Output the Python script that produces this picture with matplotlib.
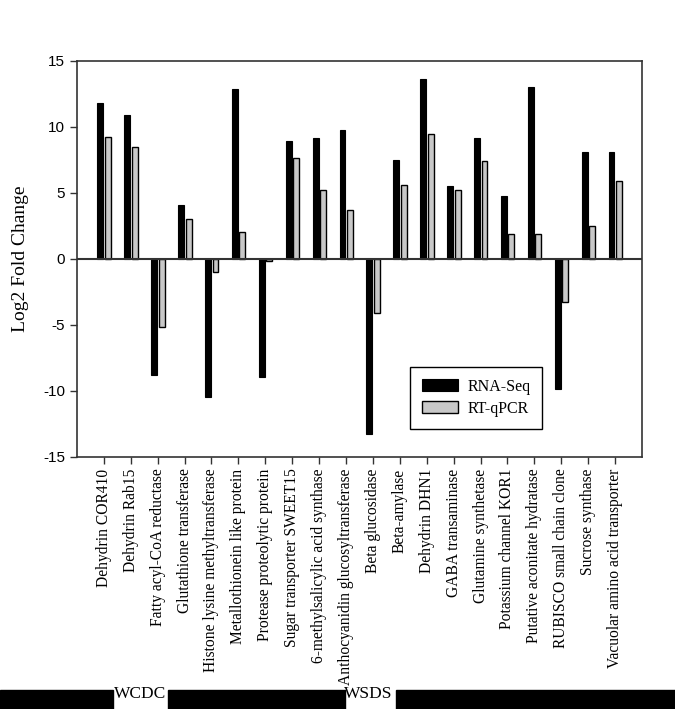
import matplotlib
matplotlib.use("Agg")
import matplotlib.pyplot as plt
from matplotlib.patches import Rectangle
import numpy as np

genes = ['Dehydrin COR410', 'Dehydrin Rab15', 'Fatty acyl-CoA reductase',
         'Glutathione transferase', 'Histone lysine methyltransferase',
         'Metallothionein like protein', 'Protease proteolytic protein',
         'Sugar transporter SWEET15', '6-methylsalicylic acid synthase',
         'Anthocyanidin glucosyltransferase', 'Beta glucosidase', 'Beta-amylase',
         'Dehydrin DHN1', 'GABA transaminase', 'Glutamine synthetase',
         'Potassium channel KOR1', 'Putative aconitate hydratase',
         'RUBISCO small chain clone', 'Sucrose synthase',
         'Vacuolar amino acid transporter']
rna_seq = [11.85, 10.9, -8.8, 4.1, -10.5, 12.9, -9.0, 8.95, 9.15, 9.75,
           -13.3, 7.5, 13.65, 5.55, 9.15, 4.75, 13.05, -9.85, 8.1, 8.1]
rt_qpcr = [9.2, 8.5, -5.15, 3.05, -1.0, 2.0, -0.15, 7.65, 5.2, 3.7,
           -4.1, 5.6, 9.5, 5.2, 7.45, 1.9, 1.85, -3.3, 2.5, 5.9]
groups = ['WCDC', 'WSDS']

plt.rcParams['font.family'] = ['Liberation Serif', 'DejaVu Serif']

fig = plt.figure(figsize=(6.75, 7.09), dpi=100)
ax = fig.add_axes([0.114, 0.356, 0.837, 0.558])

x = np.arange(len(genes))
w = 0.22
ax.bar(x - 0.13, rna_seq, w, color='black', edgecolor='black', linewidth=0.8, label='RNA-Seq')
ax.bar(x + 0.15, rt_qpcr, w, color='#c8c8c8', edgecolor='black', linewidth=1.0, label='RT-qPCR')
ax.axhline(0, color='#333333', linewidth=1.5)

ax.set_xlim(-1, 20)
ax.set_ylim(-15, 15)
ax.set_yticks([-15, -10, -5, 0, 5, 10, 15])
ax.set_yticklabels(['-15', '-10', '-5', '0', '5', '10', '15'], family='Liberation Sans', fontsize=11)
ax.set_xticks(x)
ax.set_xticklabels(genes, rotation=90, fontsize=11.2)
ax.tick_params(direction='out', length=5, width=1, color='#333333')
for s in ax.spines.values():
    s.set_color('#333333')
    s.set_linewidth(1.2)
ax.set_ylabel('Log2 Fold Change', fontsize=14, labelpad=10)

leg = ax.legend(loc='lower left', bbox_to_anchor=(0.589, 0.071), borderaxespad=0,
                fontsize=11.5, frameon=True, fancybox=False, edgecolor='black',
                handlelength=2.3, handleheight=0.8, handletextpad=0.55,
                borderpad=0.75, labelspacing=0.35, framealpha=1)
leg.get_frame().set_linewidth(1.0)

# group bars along the bottom
for x0, x1 in [(0, 113), (168, 345), (396, 675)]:
    fig.patches.append(Rectangle((x0 / 675, 0), (x1 - x0) / 675, 19 / 709,
                                 transform=fig.transFigure, color='black'))
fig.text(140 / 675, 15 / 709, groups[0], ha='center', va='center', fontsize=12.5)
fig.text(368 / 675, 15 / 709, groups[1], ha='center', va='center', fontsize=12.5)

fig.savefig('out.png', dpi=100)
